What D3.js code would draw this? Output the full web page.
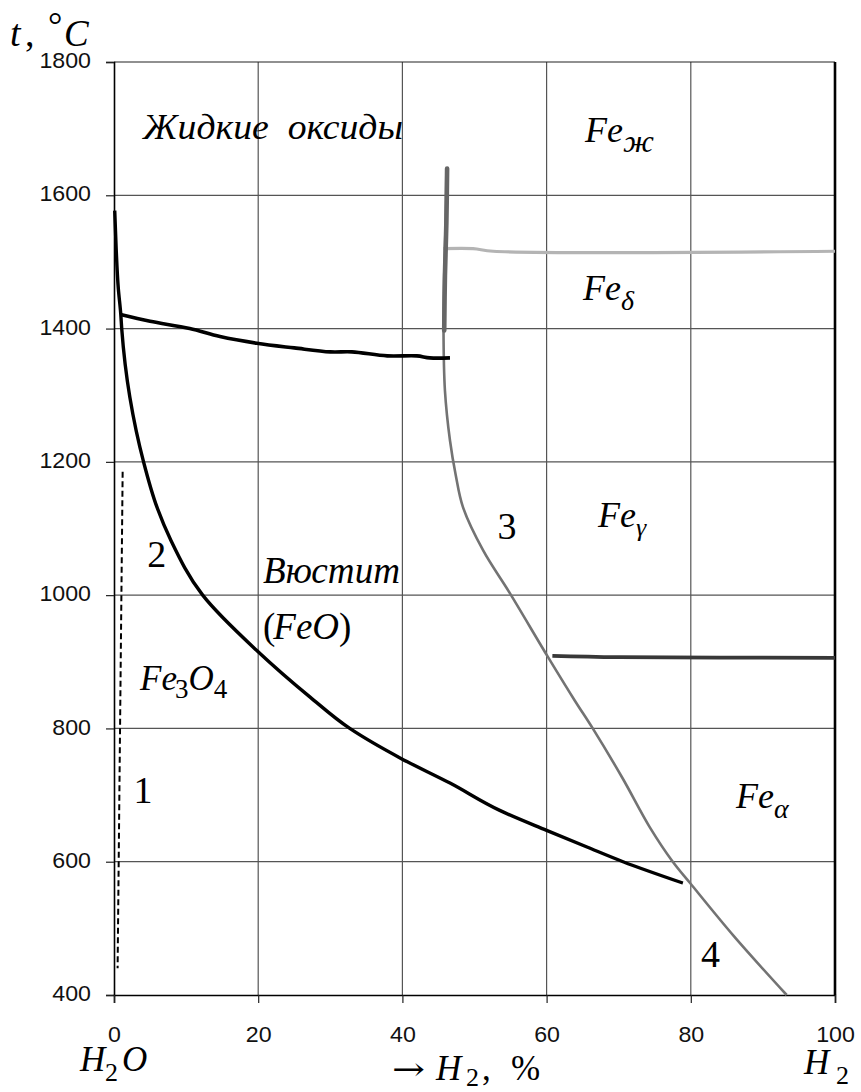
<!DOCTYPE html>
<html>
<head>
<meta charset="utf-8">
<script src="https://cdn.jsdelivr.net/npm/d3@7"></script>
<style>
  html, body { margin: 0; padding: 0; background: #fff; }
  svg { display: block; }
  .tick-label { font-family: "Liberation Sans", Arial, sans-serif; font-size: 22.5px; fill: #111; }
  .math { font-family: "Liberation Serif", "Times New Roman", serif; font-style: italic; fill: #000; white-space: pre; }
  .num { font-family: "Liberation Serif", "Times New Roman", serif; fill: #000; }
</style>
</head>
<body>
<svg id="chart" width="861" height="1092"></svg>
<script>
// Fe–O–H equilibrium diagram: gas composition (% H2) vs temperature (°C)
const xTicks = [0, 20, 40, 60, 80, 100];
const yTicks = [400, 600, 800, 1000, 1200, 1400, 1600, 1800];

// curve 1: Fe2O3 / Fe3O4 boundary (dashed)
const curve1 = [[1.2, 1185], [0.5, 440]];

// curve 2: Fe3O4 / FeO boundary
const curve2 = [
  [0.1, 1577], [0.3, 1520], [0.6, 1460], [0.93, 1423], [1.07, 1400],
  [2.2, 1297], [4.1, 1200], [5.96, 1132], [7.9, 1082], [12.3, 1000],
  [19.8, 917], [27.2, 847], [32.7, 800], [39.8, 755], [46.6, 718],
  [53.5, 677], [60.0, 647], [65.6, 622], [70.6, 600], [78.9, 568]
];

// melting of oxides
const oxideMelt = [
  [0.9, 1421], [5, 1411], [10.5, 1400], [14.7, 1388], [19.8, 1378],
  [25, 1371], [30, 1365], [33, 1365], [37.9, 1359], [42, 1359],
  [43.8, 1356], [46.6, 1356]
];

// curve 3: FeO / Fe boundary
const curve3 = [
  [46.1, 1640], [46.0, 1560], [45.8, 1480], [45.7, 1400], [45.9, 1307],
  [46.6, 1232], [47.4, 1180], [48.4, 1132], [51.2, 1067], [54.9, 1003],
  [60.2, 907], [63.9, 842], [66.4, 800], [70.5, 726], [74.3, 652],
  [77.5, 600], [79.9, 568], [86.0, 488], [93.3, 400]
];

// melting segment of wustite at the iron boundary
const meltSegment = [[46.2, 1640], [46.1, 1560], [45.9, 1480], [45.8, 1397]];

// delta-iron boundary
const deltaLine = [[45.7, 1520], [49.8, 1520], [52.6, 1516], [100, 1516]];

// gamma / alpha iron boundary
const gammaAlphaLine = [[60.8, 909], [70, 907], [100, 906]];

const svg = d3.select("#chart");
const x = d3.scaleLinear().domain([0, 100]).range([114, 835]);
const y = d3.scaleLinear().domain([400, 1800]).range([995, 62]);

// grid
const grid = svg.append("g");
grid.selectAll("line.v").data(xTicks.slice(1, -1)).join("line")
  .attr("x1", d => x(d)).attr("x2", d => x(d))
  .attr("y1", y(1800)).attr("y2", y(400))
  .attr("stroke", "#555").attr("stroke-width", 1.2);
grid.selectAll("line.h").data(yTicks.slice(1)).join("line")
  .attr("x1", x(0)).attr("x2", x(100))
  .attr("y1", d => y(d)).attr("y2", d => y(d))
  .attr("stroke", d => d === 1800 ? "#222" : "#555").attr("stroke-width", 1.2);

// axes
const yAxis = d3.axisLeft(y).tickValues(yTicks).tickSize(8).tickPadding(15).tickFormat(d3.format("d"));
const gy = svg.append("g").attr("transform", `translate(${x(0)},0)`).call(yAxis);
const xAxis = d3.axisBottom(x).tickValues(xTicks).tickSize(8).tickPadding(23).tickFormat(d3.format("d"));
const gx = svg.append("g").attr("transform", `translate(0,${y(400)})`).call(xAxis);
[gx, gy].forEach(g => {
  g.attr("font-size", null).attr("font-family", null);
  g.select(".domain").attr("stroke", "#000").attr("stroke-width", 1.6);
  g.selectAll(".tick line").attr("stroke", "#222").attr("stroke-width", 1.2);
  g.selectAll(".tick text").attr("class", "tick-label").attr("fill", "#111")
    .attr("textLength", d => String(d).length * 12.9)
    .attr("lengthAdjust", "spacingAndGlyphs");
});
gy.selectAll(".tick text").attr("dy", "0.25em");
gx.selectAll(".tick text").attr("dy", "0.71em");

// right frame edge
svg.append("line")
  .attr("x1", x(100)).attr("x2", x(100)).attr("y1", y(1800)).attr("y2", y(400))
  .attr("stroke", "#000").attr("stroke-width", 2.6);

// boundary curves
const smooth = d3.line().x(d => x(d[0])).y(d => y(d[1])).curve(d3.curveCatmullRom.alpha(0.5));
const descending = d3.line().x(d => x(d[0])).y(d => y(d[1])).curve(d3.curveMonotoneY);
const straight = d3.line().x(d => x(d[0])).y(d => y(d[1]));

svg.append("path").attr("d", straight(curve1))
  .attr("fill", "none").attr("stroke", "#000").attr("stroke-width", 2)
  .attr("stroke-dasharray", "6,3.5");

svg.append("path").attr("d", smooth(deltaLine))
  .attr("fill", "none").attr("stroke", "#b4b4b4").attr("stroke-width", 3.2);

svg.append("path").attr("d", smooth(curve3))
  .attr("fill", "none").attr("stroke", "#737373").attr("stroke-width", 2.6);

svg.append("path").attr("d", smooth(meltSegment))
  .attr("fill", "none").attr("stroke", "#666").attr("stroke-width", 4.6)
  .attr("stroke-linecap", "round");

svg.append("path").attr("d", smooth(gammaAlphaLine))
  .attr("fill", "none").attr("stroke", "#383838").attr("stroke-width", 3.8);

svg.append("path").attr("d", smooth(oxideMelt))
  .attr("fill", "none").attr("stroke", "#000").attr("stroke-width", 3.6);

svg.append("path").attr("d", descending(curve2))
  .attr("fill", "none").attr("stroke", "#000").attr("stroke-width", 3.4);

// formula-style text: each part may carry its own x, baseline offset, size and style
function formula(px, py, size, cls, parts) {
  const t = svg.append("text").attr("x", px).attr("y", py)
    .attr("class", cls).attr("font-size", size);
  parts.forEach(p => {
    const s = t.append("tspan").text(p.t);
    if (p.x !== undefined) s.attr("x", p.x);
    if (p.dx !== undefined) s.attr("dx", p.dx);
    s.attr("y", py + (p.dy || 0));
    if (p.size) s.attr("font-size", p.size);
    if (p.style) s.attr("font-style", p.style);
    if (p.family) s.attr("font-family", p.family);
    if (p.len) s.attr("textLength", p.len).attr("lengthAdjust", "spacingAndGlyphs");
  });
  return t;
}

// axis titles
formula(10, 46, 38, "math", [
  {t: "t"},
  {t: ",", x: 25, style: "normal"},
  {t: "\u00b0", x: 48, dy: -9, size: 36, style: "normal"},
  {t: "C", x: 64, dy: 0, size: 37}
]);

formula(80, 1071, 35, "math", [
  {t: "H"},
  {t: "2", x: 105, dy: 10, size: 26, style: "normal"},
  {t: "O", x: 122}
]);
formula(392, 1080, 35, "math", [
  {t: "\u2192", style: "normal", family: "DejaVu Serif", size: 32, len: 33},
  {t: "H", x: 436},
  {t: "2", x: 466, dy: 6, size: 26, style: "normal"},
  {t: ",", x: 482, style: "normal"},
  {t: "%", x: 511, style: "normal"}
]);
formula(804, 1074, 35, "math", [
  {t: "H"},
  {t: "2", x: 836, dy: 10, size: 26, style: "normal"}
]);

// region names
formula(143, 139, 36, "math", [{t: "Жидкие  оксиды", len: 260}]);
formula(585, 142, 36, "math", [{t: "Fe"}, {t: "ж", dy: 10, size: 31, len: 31}]);
formula(583, 300, 36, "math", [{t: "Fe"}, {t: "δ", dy: 10, size: 28}]);
formula(598, 527, 36, "math", [{t: "Fe"}, {t: "γ", dy: 9, size: 26}]);
formula(736, 808, 36, "math", [{t: "Fe"}, {t: "α", dy: 10, size: 28}]);
formula(263, 583, 37, "math", [{t: "Вюстит", len: 137}]);
formula(263, 639, 37, "math", [
  {t: "(", style: "normal"},
  {t: "FeO", dx: -2},
  {t: ")", style: "normal"}
]);
formula(140, 690, 35, "math", [
  {t: "Fe"},
  {t: "3", dx: -2, dy: 8, size: 27, style: "normal"},
  {t: "O"},
  {t: "4", dy: 8, size: 27, style: "normal"}
]);

// curve numbers
formula(x(2.7), y(688), 38, "num", [{t: "1"}]);
formula(x(4.6), y(1042), 38, "num", [{t: "2"}]);
formula(x(53.2), y(1084), 38, "num", [{t: "3"}]);
formula(x(81.4), y(442), 38, "num", [{t: "4"}]);
</script>
</body>
</html>
